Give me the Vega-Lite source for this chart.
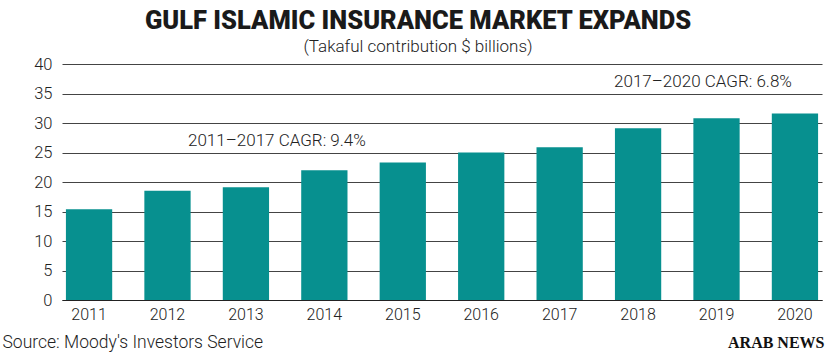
{
  "$schema": "https://vega.github.io/schema/vega-lite/v6.json",
  "width": 760,
  "height": 236,
  "autosize": "none",
  "padding": {"left": 62, "top": 64, "right": 9, "bottom": 54},
  "background": "white",
  "config": {"view": {"stroke": null}, "font": "Roboto"},
  "title": {
    "text": "GULF ISLAMIC INSURANCE MARKET EXPANDS",
    "subtitle": "(Takaful contribution $ billions)",
    "anchor": "middle",
    "frame": "group",
    "dx": -24,
    "offset": 1,
    "font": "Roboto",
    "fontSize": 25.5,
    "fontWeight": 900,
    "color": "#1a1a1a",
    "subtitleFont": "Roboto",
    "subtitleFontSize": 17,
    "subtitleFontWeight": 300,
    "subtitleColor": "#222",
    "subtitlePadding": 5
  },
  "datasets": {
    "bars": [
      {"year": "2011", "value": 15.4},
      {"year": "2012", "value": 18.5},
      {"year": "2013", "value": 19.1},
      {"year": "2014", "value": 22.0},
      {"year": "2015", "value": 23.3},
      {"year": "2016", "value": 25.0},
      {"year": "2017", "value": 25.9},
      {"year": "2018", "value": 29.1},
      {"year": "2019", "value": 30.8},
      {"year": "2020", "value": 31.6}
    ],
    "note1": [
      {"year": "2013", "value": 27.0, "label": "2011–2017 CAGR: 9.4%"}
    ],
    "note2": [
      {"year": "2020", "value": 37.0, "label": "2017–2020 CAGR: 6.8%"}
    ]
  },
  "encoding": {
    "x": {
      "field": "year",
      "type": "ordinal",
      "scale": {"domain": ["2011","2012","2013","2014","2015","2016","2017","2018","2019","2020"], "paddingInner": 0.41, "paddingOuter": 0.05},
      "axis": {
        "labelAngle": 0,
        "labelFontSize": 16,
        "labelFont": "Roboto",
        "labelFontWeight": 300,
        "labelColor": "#222",
        "labelPadding": 6,
        "ticks": false,
        "domain": true,
        "domainColor": "#222",
        "title": "Source: Moody's Investors Service",
        "titleFont": "Roboto",
        "titleFontSize": 17.5,
        "titleFontWeight": 300,
        "titleColor": "#222",
        "titleAnchor": "start",
        "titleAlign": "left",
        "titleBaseline": "middle",
        "titleX": -60,
        "titleY": 42
      }
    },
    "y": {
      "field": "value",
      "type": "quantitative",
      "scale": {"domain": [0, 40]},
      "axis": {
        "values": [0, 5, 10, 15, 20, 25, 30, 35, 40],
        "labelOverlap": false,
        "labelFontSize": 16.5,
        "labelFont": "Roboto",
        "labelFontWeight": 300,
        "labelColor": "#222",
        "labelPadding": 10,
        "ticks": false,
        "domain": false,
        "grid": true,
        "gridColor": "#444",
        "gridWidth": 1.2,
        "title": "ARAB NEWS",
        "titleAngle": 0,
        "titleFont": "Liberation Serif",
        "titleFontSize": 16,
        "titleFontWeight": "bold",
        "titleColor": "#111",
        "titleAlign": "right",
        "titleBaseline": "middle",
        "titleX": 762,
        "titleY": 278
      }
    }
  },
  "layer": [
    {
      "data": {"name": "bars"},
      "mark": {"type": "bar", "color": "#07908f"}
    },
    {
      "data": {"name": "note1"},
      "mark": {"type": "text", "fontSize": 17, "font": "Roboto", "fontWeight": 300, "color": "#222", "baseline": "middle", "align": "center", "dx": 31},
      "encoding": {"text": {"field": "label"}}
    },
    {
      "data": {"name": "note2"},
      "mark": {"type": "text", "fontSize": 17, "font": "Roboto", "fontWeight": 300, "color": "#222", "baseline": "middle", "align": "right", "dx": -3},
      "encoding": {"text": {"field": "label"}}
    }
  ]
}
